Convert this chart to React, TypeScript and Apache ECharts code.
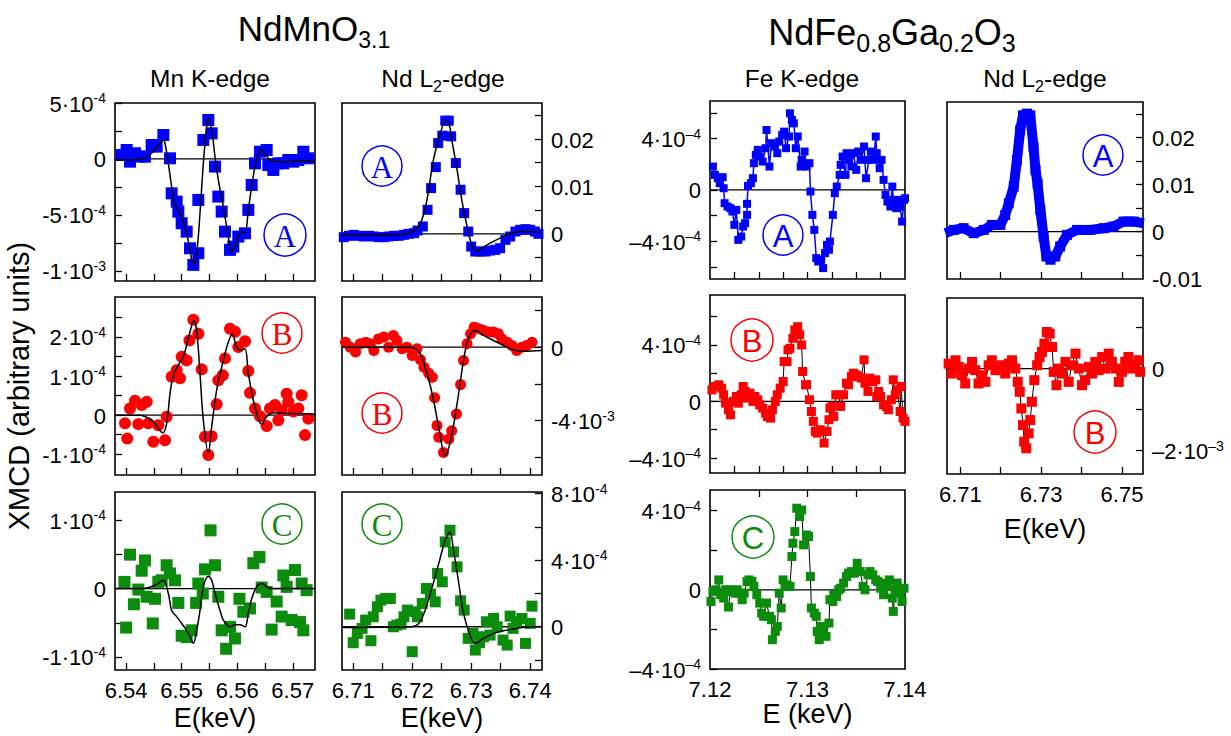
import React, { useEffect, useRef } from "react";
import * as echarts from "echarts";

// ---------------- DATA ----------------
// NdMnO3.1, Mn K-edge
const mnA_pts = [[6.5392,3.6e-5],[6.5401,8.0e-5],[6.5407,-2.4e-5],[6.5416,5.1e-5],[6.5425,2.1e-5],[6.5434,2.1e-5],[6.5446,1.25e-4],[6.5455,1.1e-4],[6.5467,2.14e-4],[6.5479,6e-6],[6.5482,-3.07e-4],[6.5491,-3.81e-4],[6.5494,-4.70e-4],[6.5500,-5.74e-4],[6.5509,-6.49e-4],[6.5515,-7.98e-4],[6.5521,-9.46e-4],[6.5530,-8.42e-4],[6.5530,-3.66e-4],[6.5539,1.70e-4],[6.5548,3.48e-4],[6.5554,2.29e-4],[6.5560,-6.8e-5],[6.5566,-3.36e-4],[6.5572,-4.70e-4],[6.5578,-6.49e-4],[6.5587,-8.12e-4],[6.5593,-7.83e-4],[6.5602,-6.93e-4],[6.5614,-6.64e-4],[6.5620,-4.55e-4],[6.5626,-2.32e-4],[6.5632,-3.9e-5],[6.5641,6.5e-5],[6.5653,8.0e-5],[6.5656,-5.4e-5],[6.5665,-9.8e-5],[6.5674,-3.9e-5],[6.5683,-3.9e-5],[6.5692,-9e-6],[6.5701,-2.4e-5],[6.5710,-9e-6],[6.5719,6.5e-5],[6.5728,6e-6]];
const mnA_fit = [[6.5382,-9e-6],[6.5407,-9e-6],[6.5431,6e-6],[6.5449,6.5e-5],[6.5461,1.40e-4],[6.5467,1.70e-4],[6.5470,1.40e-4],[6.5476,-3.9e-5],[6.5482,-2.47e-4],[6.5488,-4.11e-4],[6.5497,-4.85e-4],[6.5506,-6.04e-4],[6.5514,-7.83e-4],[6.5521,-9.46e-4],[6.5527,-8.42e-4],[6.5533,-4.85e-4],[6.5539,-3.9e-5],[6.5545,2.89e-4],[6.5548,3.63e-4],[6.5554,2.59e-4],[6.5560,2.1e-5],[6.5566,-1.87e-4],[6.5575,-4.26e-4],[6.5584,-6.93e-4],[6.5590,-8.27e-4],[6.5596,-7.83e-4],[6.5602,-6.93e-4],[6.5608,-6.49e-4],[6.5614,-6.64e-4],[6.5620,-4.55e-4],[6.5626,-2.47e-4],[6.5632,-6.8e-5],[6.5638,3.6e-5],[6.5644,8.0e-5],[6.5650,5.1e-5],[6.5659,-9e-6],[6.5671,-2.4e-5],[6.5707,-2.1e-5],[6.5740,-1.8e-5]];
const mnB_pts = [[6.5398,-2.1e-5],[6.5402,-6.0e-5],[6.5407,1.7e-5],[6.5416,3.7e-5],[6.5422,-2.3e-5],[6.5428,2.6e-5],[6.5437,3.4e-5],[6.5440,-2.1e-5],[6.5449,-6.8e-5],[6.5458,-2.6e-5],[6.5470,-6.4e-5],[6.5473,-4e-6],[6.5482,9.8e-5],[6.5491,1.15e-4],[6.5497,9.4e-5],[6.5500,1.49e-4],[6.5509,1.40e-4],[6.5514,1.91e-4],[6.5521,2.44e-4],[6.5530,2.08e-4],[6.5536,1.17e-4],[6.5542,-5.5e-5],[6.5548,-1.02e-4],[6.5554,-5.4e-5],[6.5563,2.8e-5],[6.5566,8.9e-5],[6.5574,1.02e-4],[6.5578,1.45e-4],[6.5587,2.21e-4],[6.5596,2.13e-4],[6.5602,1.74e-4],[6.5614,1.89e-4],[6.5620,1.13e-4],[6.5623,5.7e-5],[6.5632,1.7e-5],[6.5641,-3e-6],[6.5653,-2.8e-5],[6.5659,1.7e-5],[6.5668,2.6e-5],[6.5674,-1.3e-5],[6.5680,1.3e-5],[6.5689,5.5e-5],[6.5692,3.4e-5],[6.5701,9e-6],[6.5710,1.7e-5],[6.5716,5.1e-5],[6.5722,-5.1e-5],[6.5728,-9e-6]];
const mnB_fit = [[6.5382,0],[6.5425,0],[6.5449,-1.7e-5],[6.5466,-4.5e-5],[6.5473,-2.1e-5],[6.5479,5.5e-5],[6.5485,1.02e-4],[6.5494,1.28e-4],[6.5503,1.49e-4],[6.5514,2.08e-4],[6.5522,2.41e-4],[6.5527,2.17e-4],[6.5533,1.06e-4],[6.5539,-1.3e-5],[6.5548,-9.6e-5],[6.5554,-3.0e-5],[6.5563,6.4e-5],[6.5575,1.40e-4],[6.5584,1.87e-4],[6.5591,2.07e-4],[6.5599,1.74e-4],[6.5606,1.66e-4],[6.5614,1.70e-4],[6.5620,1.06e-4],[6.5629,3.8e-5],[6.5638,-9e-6],[6.5644,-2.3e-5],[6.5653,-4e-6],[6.5665,6e-6],[6.5695,4e-6],[6.5740,3e-6]];
const mnC_pts = [[6.5397,9.7e-6],[6.5400,-5.7e-5],[6.5407,4.95e-5],[6.5414,-2.3e-5],[6.5422,-1.5e-6],[6.5428,2.6e-5],[6.5434,4.1e-5],[6.5437,-1.2e-5],[6.5448,-5.1e-5],[6.5452,-1.5e-5],[6.5458,9.7e-6],[6.5464,1.2e-5],[6.5473,3.4e-5],[6.5479,2.2e-5],[6.5488,1.2e-5],[6.5494,-2.1e-5],[6.5500,-6.9e-5],[6.5509,-7.1e-5],[6.5518,-6.1e-5],[6.5526,-2.1e-5],[6.5530,7.3e-6],[6.5538,-7.3e-6],[6.5542,2.8e-5],[6.5552,8.5e-5],[6.5560,3.4e-5],[6.5566,-1.2e-5],[6.5572,-6.1e-5],[6.5580,-8.8e-5],[6.5587,-5.6e-5],[6.5596,-7.3e-5],[6.5604,-1.5e-5],[6.5611,-3.4e-5],[6.5623,-2.9e-5],[6.5629,3.7e-5],[6.5640,4.6e-5],[6.5644,1.5e-6],[6.5653,-4.9e-6],[6.5662,-6.0e-5],[6.5671,-1.9e-5],[6.5680,-4.1e-5],[6.5683,1.9e-5],[6.5689,2.4e-6],[6.5698,-4.6e-5],[6.5704,2.7e-5],[6.5713,-4.9e-5],[6.5716,7.3e-6],[6.5719,-6.1e-5],[6.5725,-2.4e-6]];
const mnC_fit = [[6.5382,0],[6.5431,0],[6.5452,4.9e-6],[6.5467,1.2e-5],[6.5476,-7.3e-6],[6.5482,-3.2e-5],[6.5491,-4.1e-5],[6.5500,-5.1e-5],[6.5509,-6.1e-5],[6.5515,-7.0e-5],[6.5521,-8.0e-5],[6.5527,-6.1e-5],[6.5533,-3.2e-5],[6.5539,2.4e-6],[6.5548,1.8e-5],[6.5554,1.2e-5],[6.5560,-7.3e-6],[6.5569,-3.2e-5],[6.5575,-4.6e-5],[6.5587,-5.6e-5],[6.5596,-5.3e-5],[6.5605,-5.3e-5],[6.5614,-5.6e-5],[6.5620,-3.6e-5],[6.5626,-1.5e-5],[6.5635,2.4e-6],[6.5644,7.3e-6],[6.5659,0],[6.5740,0]];

// NdMnO3.1, Nd L2-edge
const ndMA_pts = [[6.7084,-7.0e-4],[6.7093,-4.2e-4],[6.7101,-2.1e-4],[6.7110,-4.2e-4],[6.7118,-5.6e-4],[6.7127,-4.2e-4],[6.7135,-5.6e-4],[6.7143,-7.0e-4],[6.7152,-7.0e-4],[6.7160,-5.6e-4],[6.7169,-4.2e-4],[6.7177,-4.2e-4],[6.7186,-2.1e-4],[6.7194,0],[6.7203,1.4e-4],[6.7209,7.0e-4],[6.7218,1.55e-3],[6.7226,5.07e-3],[6.7232,9.65e-3],[6.7240,0.01408],[6.7244,0.01915],[6.7251,0.0207],[6.7256,0.02387],[6.7262,0.02387],[6.7266,0.02056],[6.7274,0.01493],[6.7282,0.0093],[6.7288,0.00437],[6.7295,4.9e-4],[6.7300,-2.68e-3],[6.7307,-3.73e-3],[6.7315,-3.73e-3],[6.7324,-3.73e-3],[6.7332,-3.52e-3],[6.7341,-3.38e-3],[6.7349,-3.03e-3],[6.7358,-1.27e-3],[6.7366,-5.6e-4],[6.7375,4.9e-4],[6.7383,8.5e-4],[6.7392,9.9e-4],[6.7400,8.5e-4],[6.7408,4.9e-4],[6.7414,0]];
const ndMA_fit = [[6.7081,-2.1e-4],[6.7174,-2.1e-4],[6.7200,4.9e-4],[6.7214,2.25e-3],[6.7225,7.18e-3],[6.7236,0.01563],[6.7248,0.02127],[6.7256,0.02373],[6.7262,0.02338],[6.7267,0.01986],[6.7276,0.01352],[6.7284,0.00718],[6.7293,1.55e-3],[6.7301,-2.32e-3],[6.7309,-3.73e-3],[6.7318,-3.03e-3],[6.7332,-1.97e-3],[6.7349,-9.2e-4],[6.7366,0],[6.7383,4.9e-4],[6.7400,4.9e-4],[6.7420,2.8e-4]];
const ndMB_pts = [[6.7087,2.7e-4],[6.7095,0],[6.7104,-2.7e-4],[6.7112,1.8e-4],[6.7121,2.7e-4],[6.7129,1.8e-4],[6.7135,-1.8e-4],[6.7143,4.5e-4],[6.7152,5.5e-4],[6.7160,0],[6.7168,6.4e-4],[6.7174,3.6e-4],[6.7183,-9e-5],[6.7191,0],[6.7200,-4.5e-4],[6.7208,-9e-5],[6.7214,-6.9e-4],[6.7220,-1.09e-3],[6.7228,-1.42e-3],[6.7234,-1.64e-3],[6.7238,-2.76e-3],[6.7242,-4.27e-3],[6.7245,-4.91e-3],[6.7253,-5.73e-3],[6.7262,-5.0e-3],[6.7267,-4.55e-3],[6.7275,-3.64e-3],[6.7282,-2.04e-3],[6.7287,-7.3e-4],[6.7293,1.8e-4],[6.7299,7.3e-4],[6.7305,1.09e-3],[6.7313,1.0e-3],[6.7321,9.1e-4],[6.7330,8.2e-4],[6.7338,8.2e-4],[6.7346,7.3e-4],[6.7352,4.5e-4],[6.7361,2.7e-4],[6.7369,9e-5],[6.7377,-1.8e-4],[6.7386,0],[6.7394,9e-5],[6.7403,2.7e-4]];
const ndMB_fit = [[6.7081,0],[6.7197,0],[6.7211,-2.2e-4],[6.7222,-1.09e-3],[6.7234,-2.55e-3],[6.7245,-4.36e-3],[6.7256,-5.91e-3],[6.7265,-5.09e-3],[6.7276,-3.09e-3],[6.7287,-7.3e-4],[6.7296,5.5e-4],[6.7307,9.1e-4],[6.7321,6.4e-4],[6.7338,3.6e-4],[6.7355,9e-5],[6.7372,-1.5e-4],[6.7389,-2.2e-4],[6.7420,-1.8e-4]];
const ndMC_pts = [[6.7094,7.6e-5],[6.7100,-9.6e-5],[6.7107,-4.0e-5],[6.7115,-1e-5],[6.7121,4e-5],[6.7130,-8.4e-5],[6.7134,6e-5],[6.7141,1.2e-4],[6.7147,1.6e-4],[6.7155,1.7e-4],[6.7163,1.7e-4],[6.7168,0],[6.7174,1e-5],[6.7181,1.6e-5],[6.7186,6e-5],[6.7192,1e-4],[6.7200,-1.5e-4],[6.7205,9e-5],[6.7209,6e-5],[6.7217,1.4e-4],[6.7224,2.3e-4],[6.7231,1.96e-4],[6.7239,1.5e-4],[6.7243,3.2e-4],[6.7251,2.7e-4],[6.7256,5.1e-4],[6.7264,5.8e-4],[6.7270,4.5e-4],[6.7276,3.6e-4],[6.7282,1.56e-4],[6.7288,1e-4],[6.7295,-7e-5],[6.7303,-4e-5],[6.7307,-1.4e-4],[6.7314,-9.6e-5],[6.7321,-6e-5],[6.7326,3e-5],[6.7332,-5e-5],[6.7338,5e-5],[6.7344,0],[6.7354,-8e-5],[6.7361,-1.1e-4],[6.7366,6.4e-5],[6.7371,-1e-5],[6.7377,3e-5],[6.7386,5e-5],[6.7392,-1e-4],[6.7400,2e-5],[6.7403,1.24e-4]];
const ndMC_fit = [[6.7083,-4e-6],[6.7197,0],[6.7211,2e-5],[6.7222,1e-4],[6.7234,2.4e-4],[6.7245,3.8e-4],[6.7256,5.2e-4],[6.7264,5.7e-4],[6.7270,4.6e-4],[6.7279,2.6e-4],[6.7287,8e-5],[6.7299,-6e-5],[6.7307,-1e-4],[6.7321,-7e-5],[6.7338,-4e-5],[6.7355,-2.4e-5],[6.7377,-1e-5],[6.7400,0],[6.7420,0]];

// NdFe0.8Ga0.2O3, Fe K-edge
const feA_pts = [[7.1199,1.56e-4],[7.1203,1.82e-4],[7.1205,1.17e-4],[7.1208,9.1e-5],[7.1210,5.2e-5],[7.1213,9.9e-5],[7.1214,1.3e-5],[7.1215,-1.04e-4],[7.1218,-1.30e-4],[7.1221,-1.43e-4],[7.1223,-1.69e-4],[7.1225,-2.73e-4],[7.1227,-1.56e-4],[7.1229,-3.90e-4],[7.1232,-3.64e-4],[7.1234,-2.86e-4],[7.1236,-2.60e-4],[7.1238,-1.95e-4],[7.1238,-1.09e-4],[7.1239,3.1e-5],[7.1242,5.2e-5],[7.1244,9.1e-5],[7.1245,2.08e-4],[7.1247,2.73e-4],[7.1249,3.12e-4],[7.1251,2.60e-4],[7.1254,2.21e-4],[7.1257,3.25e-4],[7.1258,4.67e-4],[7.1261,1.82e-4],[7.1263,3.64e-4],[7.1266,3.38e-4],[7.1269,2.86e-4],[7.1271,3.77e-4],[7.1274,4.29e-4],[7.1276,4.54e-4],[7.1278,3.25e-4],[7.1281,4.16e-4],[7.1282,5.97e-4],[7.1284,5.45e-4],[7.1286,5.19e-4],[7.1288,3.25e-4],[7.1290,4.16e-4],[7.1293,1.82e-4],[7.1294,2.34e-4],[7.1297,2.99e-4],[7.1299,1.82e-4],[7.1302,2.08e-4],[7.1303,-1.3e-5],[7.1305,-1.95e-4],[7.1307,-3.12e-4],[7.1309,-5.32e-4],[7.1311,-5.58e-4],[7.1314,-5.45e-4],[7.1316,-6.10e-4],[7.1318,-4.93e-4],[7.1320,-4.29e-4],[7.1322,-4.67e-4],[7.1323,-4.03e-4],[7.1326,-1.95e-4],[7.1328,-2.6e-5],[7.1330,2.6e-5],[7.1333,1.17e-4],[7.1334,1.95e-4],[7.1336,2.60e-4],[7.1339,1.17e-4],[7.1340,2.86e-4],[7.1342,2.34e-4],[7.1345,1.82e-4],[7.1347,2.86e-4],[7.1350,1.56e-4],[7.1352,2.99e-4],[7.1355,2.34e-4],[7.1358,3.38e-4],[7.1360,9.1e-5],[7.1363,2.34e-4],[7.1365,2.99e-4],[7.1368,2.34e-4],[7.1370,4.16e-4],[7.1371,2.86e-4],[7.1374,1.69e-4],[7.1376,2.34e-4],[7.1378,7.8e-5],[7.1380,-3.9e-5],[7.1382,-9.1e-5],[7.1385,-1.30e-4],[7.1387,2.6e-5],[7.1388,-7.8e-5],[7.1391,-1.43e-4],[7.1394,-7.8e-5],[7.1395,-1.30e-4],[7.1397,-2.47e-4],[7.1399,-7.8e-5],[7.1400,-6.5e-5]];
const feB_pts = [[7.1198,9.4e-5],[7.1202,8.2e-5],[7.1205,1.06e-4],[7.1209,1.18e-4],[7.1212,9.4e-5],[7.1214,4.7e-5],[7.1216,-1.2e-5],[7.1219,-5.9e-5],[7.1221,-9.4e-5],[7.1224,0],[7.1227,3.5e-5],[7.1229,-1.2e-5],[7.1232,4.7e-5],[7.1234,1.06e-4],[7.1236,7.1e-5],[7.1238,2.4e-5],[7.1241,5.9e-5],[7.1244,0],[7.1246,3.5e-5],[7.1249,1.2e-5],[7.1251,-2.4e-5],[7.1254,-4.7e-5],[7.1257,-8.2e-5],[7.1259,-1.06e-4],[7.1262,-1.18e-4],[7.1264,-5.9e-5],[7.1267,0],[7.1269,4.7e-5],[7.1272,9.4e-5],[7.1275,1.41e-4],[7.1276,2.82e-4],[7.1279,2.82e-4],[7.1280,3.65e-4],[7.1282,3.76e-4],[7.1285,4.47e-4],[7.1287,5.06e-4],[7.1290,5.29e-4],[7.1292,4.71e-4],[7.1294,4.0e-4],[7.1295,2.12e-4],[7.1298,1.18e-4],[7.1299,1.18e-4],[7.1302,1.2e-5],[7.1304,-7.1e-5],[7.1306,-1.41e-4],[7.1308,-2.12e-4],[7.1310,-2.24e-4],[7.1313,-2.0e-4],[7.1316,-2.12e-4],[7.1317,-2.94e-4],[7.1320,-2.12e-4],[7.1322,-1.29e-4],[7.1323,-4.7e-5],[7.1325,-3.5e-5],[7.1327,-1.06e-4],[7.1329,4.7e-5],[7.1332,4.7e-5],[7.1334,-3.5e-5],[7.1337,4.7e-5],[7.1340,1.29e-4],[7.1342,1.18e-4],[7.1345,1.76e-4],[7.1347,2.0e-4],[7.1350,1.88e-4],[7.1352,1.76e-4],[7.1355,1.65e-4],[7.1358,2.94e-4],[7.1359,1.29e-4],[7.1362,7.1e-5],[7.1364,1.65e-4],[7.1367,1.41e-4],[7.1370,1.53e-4],[7.1371,3.5e-5],[7.1373,7.1e-5],[7.1375,3.5e-5],[7.1378,-2.4e-5],[7.1381,-3.5e-5],[7.1383,-5.9e-5],[7.1386,1.2e-5],[7.1388,1.53e-4],[7.1390,4.7e-5],[7.1392,8.2e-5],[7.1395,-7.1e-5],[7.1396,1.06e-4],[7.1398,-1.18e-4],[7.1400,-1.41e-4]];
const feC_pts = [[7.1198,0],[7.1201,-5.9e-5],[7.1203,-8e-6],[7.1206,0],[7.1209,5.0e-5],[7.1211,-2.5e-5],[7.1214,-4.2e-5],[7.1216,0],[7.1219,-8.7e-5],[7.1221,0],[7.1223,-8e-6],[7.1226,-1.7e-5],[7.1228,0],[7.1230,-1.7e-5],[7.1233,-5.0e-5],[7.1235,-1.7e-5],[7.1238,4.2e-5],[7.1240,5.0e-5],[7.1243,4.2e-5],[7.1245,1.7e-5],[7.1248,-2.5e-5],[7.1251,-6.7e-5],[7.1253,-1.18e-4],[7.1255,-1.34e-4],[7.1258,-6.7e-5],[7.1261,-1.34e-4],[7.1263,-1.51e-4],[7.1264,-2.52e-4],[7.1267,-2.10e-4],[7.1269,-1.85e-4],[7.1271,-1.7e-5],[7.1273,-9.2e-5],[7.1275,5.0e-5],[7.1277,1.7e-5],[7.1279,2.5e-5],[7.1282,1.7e-5],[7.1284,1.68e-4],[7.1285,2.35e-4],[7.1287,2.94e-4],[7.1289,4.12e-4],[7.1292,3.70e-4],[7.1294,4.03e-4],[7.1296,2.27e-4],[7.1299,2.77e-4],[7.1301,2.69e-4],[7.1303,6.7e-5],[7.1304,-9.2e-5],[7.1307,-1.18e-4],[7.1309,-1.34e-4],[7.1310,-2.10e-4],[7.1312,-2.52e-4],[7.1314,-1.85e-4],[7.1316,-2.10e-4],[7.1319,-2.35e-4],[7.1322,-1.68e-4],[7.1323,-5.0e-5],[7.1326,-5.9e-5],[7.1327,-2.5e-5],[7.1330,-3.4e-5],[7.1332,0],[7.1334,8e-6],[7.1337,3.4e-5],[7.1340,6.7e-5],[7.1342,8.4e-5],[7.1345,9.2e-5],[7.1348,8.4e-5],[7.1351,1.34e-4],[7.1354,9.2e-5],[7.1357,1.7e-5],[7.1359,0],[7.1362,7.6e-5],[7.1364,9.2e-5],[7.1367,7.6e-5],[7.1370,5.0e-5],[7.1372,4.2e-5],[7.1375,8e-6],[7.1378,-2.5e-5],[7.1379,3.4e-5],[7.1382,1.7e-5],[7.1384,5.0e-5],[7.1387,-4.2e-5],[7.1388,-1.09e-4],[7.1390,0],[7.1392,3.4e-5],[7.1395,-1.7e-5],[7.1397,-5.9e-5],[7.1399,8e-6],[7.1401,1.7e-5]];

// NdFe0.8Ga0.2O3, Nd L2-edge
const ndFA_pts = [[6.7063,-3.5e-4],[6.7084,3.5e-4],[6.7108,7.1e-4],[6.7133,-3.5e-4],[6.7158,3.5e-4],[6.7178,1.41e-3],[6.7199,1.41e-3],[6.7211,3.53e-3],[6.7220,6.0e-3],[6.7232,9.54e-3],[6.7240,0.0152],[6.7248,0.02155],[6.7255,0.02473],[6.7265,0.02509],[6.7273,0.02473],[6.7281,0.01802],[6.7286,0.01307],[6.7291,0.01025],[6.7298,4.59e-3],[6.7306,-1.06e-3],[6.7313,-5.3e-3],[6.7323,-6.0e-3],[6.7335,-5.3e-3],[6.7347,-3.18e-3],[6.7364,-7.1e-4],[6.7389,3.5e-4],[6.7422,3.5e-4],[6.7455,7.1e-4],[6.7479,1.06e-3],[6.7504,2.12e-3],[6.7529,2.12e-3],[6.7554,1.77e-3]];
const ndFB_pts = [[6.7063,-8.1e-5],[6.7071,1.21e-4],[6.7079,-1.21e-4],[6.7088,2.02e-4],[6.7096,4e-5],[6.7104,-1.62e-4],[6.7112,-3.64e-4],[6.7121,0],[6.7129,1.62e-4],[6.7137,-4e-5],[6.7145,-3.64e-4],[6.7154,-1.62e-4],[6.7162,-3.24e-4],[6.7170,8.1e-5],[6.7178,2.02e-4],[6.7187,-4e-5],[6.7195,0],[6.7203,8.1e-5],[6.7211,-1.21e-4],[6.7220,1.21e-4],[6.7228,2.02e-4],[6.7236,0],[6.7242,-3.24e-4],[6.7247,-5.67e-4],[6.7251,-9.72e-4],[6.7255,-1.377e-3],[6.7258,-1.781e-3],[6.7263,-1.943e-3],[6.7269,-1.579e-3],[6.7273,-1.255e-3],[6.7277,-8.1e-4],[6.7283,-2.83e-4],[6.7290,8.1e-5],[6.7296,2.83e-4],[6.7302,4.05e-4],[6.7308,6.07e-4],[6.7314,8.91e-4],[6.7321,8.5e-4],[6.7327,5.26e-4],[6.7331,-8.1e-5],[6.7338,-4.05e-4],[6.7343,0],[6.7352,-1.21e-4],[6.7360,1.62e-4],[6.7368,-3.24e-4],[6.7376,8.1e-5],[6.7385,3.64e-4],[6.7393,0],[6.7401,-4.05e-4],[6.7409,-2.83e-4],[6.7418,4e-5],[6.7426,-1.21e-4],[6.7434,1.62e-4],[6.7442,-4e-5],[6.7451,2.83e-4],[6.7459,0],[6.7467,3.64e-4],[6.7475,1.62e-4],[6.7484,0],[6.7492,-3.24e-4],[6.7500,-8.1e-5],[6.7508,1.62e-4],[6.7516,2.83e-4],[6.7525,0],[6.7533,8.1e-5],[6.7541,2.02e-4],[6.7545,-8.1e-5]];

// axis ticks and tick labels
const mnX_ticks = [6.54, 6.545, 6.55, 6.555, 6.56, 6.565, 6.57];
const mnX_labels = [6.54, 6.55, 6.56, 6.57];
const ndMX_ticks = [6.71, 6.715, 6.72, 6.725, 6.73, 6.735, 6.74];
const ndMX_labels = [6.71, 6.72, 6.73, 6.74];
const feX_ticks = [7.1225, 7.125, 7.1275, 7.13, 7.1325, 7.135, 7.1375];
const feX_topTicks = [7.125, 7.13, 7.135];
const feX_labels = [7.12, 7.13, 7.14];
const ndFX_ticks = [6.71, 6.72, 6.73, 6.74, 6.75];
const ndFX_labels = [6.71, 6.73, 6.75];

const mnA_yTicks = [-1e-3, -7.5e-4, -5e-4, -2.5e-4, 0, 2.5e-4, 5e-4];
const mnA_yLabels = [-1e-3, -5e-4, 0, 5e-4];
const mnB_yTicks = [-1e-4, -5e-5, 0, 5e-5, 1e-4, 1.5e-4, 2e-4, 2.5e-4];
const mnB_yLabels = [-1e-4, 0, 1e-4, 2e-4];
const mnC_yTicks = [-1e-4, -5e-5, 0, 5e-5, 1e-4];
const mnC_yLabels = [-1e-4, 0, 1e-4];
const ndMA_yTicks = [-0.005, 0, 0.005, 0.01, 0.015, 0.02, 0.025];
const ndMA_yLabels = [-0.01, 0, 0.01, 0.02];
const ndMB_yTicks = [-6e-3, -4e-3, -2e-3, 0, 2e-3];
const ndMB_yLabels = [-4e-3, 0];
const ndMC_yTicks = [-2e-4, 0, 2e-4, 4e-4, 6e-4, 8e-4];
const ndMC_yLabels = [0, 4e-4, 8e-4];
const feA_yTicks = [-6e-4, -4e-4, -2e-4, 0, 2e-4, 4e-4, 6e-4];
const feA_yLabels = [-4e-4, 0, 4e-4];
const feB_yTicks = [-4e-4, -2e-4, 0, 2e-4, 4e-4, 6e-4];
const feB_yLabels = [-4e-4, 0, 4e-4];
const feC_yTicks = [-4e-4, -2e-4, 0, 2e-4, 4e-4];
const feC_yLabels = [-4e-4, 0, 4e-4];
const ndFA_yTicks = [-0.005, 0, 0.005, 0.01, 0.015, 0.02, 0.025];
const ndFA_yLabels = [-0.01, 0, 0.01, 0.02];
const ndFB_yTicks = [-2e-3, -1e-3, 0, 1e-3];
const ndFB_yLabels = [-2e-3, 0];

// ---------------- CHART ----------------
const SANS = "'Liberation Sans', Arial, Helvetica, sans-serif";
const SERIF = "'Liberation Serif', 'Times New Roman', serif";
const BLUE = "#0000ff";
const RED = "#ff0000";
const GREEN = "#0c8c0c";

function sciLabel(v: number, dash: string): string {
  if (Math.abs(v) < 1e-12) return "{b|0}";
  const e = Math.floor(Math.log10(Math.abs(v)) + 1e-9);
  const m = Math.round(v / Math.pow(10, e));
  const sign = m < 0 ? dash : "";
  return `{b|${sign}${Math.abs(m)}·10}{s|${dash}${-e}}`;
}
function decLabel(v: number): string {
  if (Math.abs(v) < 1e-12) return "{b|0}";
  return `{b|${v.toFixed(2)}}`;
}

type Panel = {
  left: number; top: number; width: number; height: number;
  xMin: number; xMax: number; xTicks: number[]; xLabels?: number[]; xTopTicks?: number[]; xName?: string; nameGap?: number;
  yMin: number; yMax: number; yTicks: number[]; yLabels: number[]; ySide: "left" | "right";
  yFmt: "sci" | "dec"; dash: string;
  pts: number[][]; color: string; symbol: string; symbolSize: number;
  fit?: number[][]; connect?: string; connectWidth?: number;
};

function buildOption() {
  const panels: Panel[] = [
    { left: 115, top: 103, width: 200, height: 178, xMin: 6.538, xMax: 6.574, xTicks: mnX_ticks,
      yMin: -1.09e-3, yMax: 5e-4, yTicks: mnA_yTicks, yLabels: mnA_yLabels, ySide: "left", yFmt: "sci", dash: "-",
      pts: mnA_pts, fit: mnA_fit, color: BLUE, symbol: "rect", symbolSize: 12 },
    { left: 115, top: 297, width: 200, height: 178, xMin: 6.538, xMax: 6.574, xTicks: mnX_ticks,
      yMin: -1.53e-4, yMax: 3.02e-4, yTicks: mnB_yTicks, yLabels: mnB_yLabels, ySide: "left", yFmt: "sci", dash: "-",
      pts: mnB_pts, fit: mnB_fit, color: RED, symbol: "circle", symbolSize: 12 },
    { left: 115, top: 492, width: 200, height: 178, xMin: 6.538, xMax: 6.574, xTicks: mnX_ticks, xLabels: mnX_labels, xName: "E(keV)", nameGap: 34,
      yMin: -1.19e-4, yMax: 1.41e-4, yTicks: mnC_yTicks, yLabels: mnC_yLabels, ySide: "left", yFmt: "sci", dash: "-",
      pts: mnC_pts, fit: mnC_fit, color: GREEN, symbol: "rect", symbolSize: 12 },
    { left: 342, top: 103, width: 200, height: 178, xMin: 6.7081, xMax: 6.742, xTicks: ndMX_ticks,
      yMin: -0.00995, yMax: 0.0276, yTicks: ndMA_yTicks, yLabels: ndMA_yLabels, ySide: "right", yFmt: "dec", dash: "-",
      pts: ndMA_pts, fit: ndMA_fit, color: BLUE, symbol: "rect", symbolSize: 10 },
    { left: 342, top: 297, width: 200, height: 178, xMin: 6.7081, xMax: 6.742, xTicks: ndMX_ticks,
      yMin: -6.96e-3, yMax: 2.73e-3, yTicks: ndMB_yTicks, yLabels: ndMB_yLabels, ySide: "right", yFmt: "sci", dash: "-",
      pts: ndMB_pts, fit: ndMB_fit, color: RED, symbol: "circle", symbolSize: 11 },
    { left: 342, top: 492, width: 200, height: 178, xMin: 6.7081, xMax: 6.742, xTicks: ndMX_ticks, xLabels: ndMX_labels, xName: "E(keV)", nameGap: 34,
      yMin: -2.6e-4, yMax: 8.1e-4, yTicks: ndMC_yTicks, yLabels: ndMC_yLabels, ySide: "right", yFmt: "sci", dash: "-",
      pts: ndMC_pts, fit: ndMC_fit, color: GREEN, symbol: "rect", symbolSize: 11 },
    { left: 710, top: 101, width: 195, height: 178, xMin: 7.12, xMax: 7.14, xTicks: feX_ticks,
      yMin: -6.95e-4, yMax: 6.93e-4, yTicks: feA_yTicks, yLabels: feA_yLabels, ySide: "left", yFmt: "sci", dash: "–",
      pts: feA_pts, connect: BLUE, connectWidth: 1.5, color: BLUE, symbol: "rect", symbolSize: 8 },
    { left: 710, top: 295, width: 195, height: 178, xMin: 7.12, xMax: 7.14, xTicks: feX_ticks,
      yMin: -5.06e-4, yMax: 7.53e-4, yTicks: feB_yTicks, yLabels: feB_yLabels, ySide: "left", yFmt: "sci", dash: "–",
      pts: feB_pts, connect: "#000", connectWidth: 1, color: RED, symbol: "rect", symbolSize: 9 },
    { left: 710, top: 490, width: 195, height: 179, xMin: 7.12, xMax: 7.14, xTicks: [], xTopTicks: feX_topTicks, xLabels: feX_labels, xName: "E (keV)", nameGap: 30,
      yMin: -4.0e-4, yMax: 5.04e-4, yTicks: feC_yTicks, yLabels: feC_yLabels, ySide: "left", yFmt: "sci", dash: "–",
      pts: feC_pts, connect: "#000", connectWidth: 1, color: GREEN, symbol: "rect", symbolSize: 9 },
    { left: 947, top: 102, width: 196, height: 177, xMin: 6.7067, xMax: 6.7552, xTicks: ndFX_ticks,
      yMin: -0.0101, yMax: 0.02756, yTicks: ndFA_yTicks, yLabels: ndFA_yLabels, ySide: "right", yFmt: "dec", dash: "–",
      pts: ndFA_pts, connect: BLUE, connectWidth: 10, color: BLUE, symbol: "rect", symbolSize: 10 },
    { left: 947, top: 298, width: 196, height: 176, xMin: 6.7067, xMax: 6.7552, xTicks: ndFX_ticks, xLabels: ndFX_labels, xName: "E(keV)", nameGap: 41,
      yMin: -2.57e-3, yMax: 1.72e-3, yTicks: ndFB_yTicks, yLabels: ndFB_yLabels, ySide: "right", yFmt: "sci", dash: "–",
      pts: ndFB_pts, connect: "#000", connectWidth: 1, color: RED, symbol: "rect", symbolSize: 10 },
  ];

  const grid: any[] = [];
  const xAxis: any[] = [];
  const yAxis: any[] = [];
  const series: any[] = [];
  const tickStyle = { color: "#000", width: 1.3 };
  const richY = {
    b: { fontSize: 22, fontFamily: SANS, color: "#000", lineHeight: 24, verticalAlign: "bottom" },
    s: { fontSize: 14, fontFamily: SANS, color: "#000", lineHeight: 15, verticalAlign: "top" },
  };

  panels.forEach((p, i) => {
    grid.push({ left: p.left, top: p.top, width: p.width, height: p.height, show: true,
      borderColor: "#000", borderWidth: 1.6, backgroundColor: "transparent", containLabel: false });
    xAxis.push({
      type: "value", gridIndex: i, position: "bottom", min: p.xMin, max: p.xMax,
      axisLine: { show: false, onZero: false }, splitLine: { show: false },
      axisTick: { show: p.xTicks.length > 0, inside: true, length: 7, customValues: p.xTicks, lineStyle: tickStyle },
      axisLabel: p.xLabels
        ? { show: true, customValues: p.xLabels, margin: 9, fontSize: 22, fontFamily: SANS, color: "#000",
            formatter: (v: number) => v.toFixed(2) }
        : { show: false },
      name: p.xName, nameLocation: "middle", nameGap: p.nameGap ?? 34,
      nameTextStyle: { fontSize: 27, fontFamily: SANS, color: "#000" },
    });
    const xi = xAxis.length - 1;
    const yi = yAxis.length;
    yAxis.push({
      type: "value", gridIndex: i, position: p.ySide, min: p.yMin, max: p.yMax,
      axisLine: { show: false, onZero: false }, splitLine: { show: false },
      axisTick: { show: true, inside: true, length: 7, customValues: p.yTicks, lineStyle: tickStyle },
      axisLabel: {
        show: true, customValues: p.yLabels, margin: 9, fontSize: 22, fontFamily: SANS, color: "#000",
        formatter: (v: number) => (p.yFmt === "sci" ? sciLabel(v, p.dash) : decLabel(v)),
        rich: richY,
      },
    });
    if (p.xTopTicks) {
      xAxis.push({
        type: "value", gridIndex: i, position: "top", min: p.xMin, max: p.xMax,
        axisLine: { show: false, onZero: false }, splitLine: { show: false },
        axisTick: { show: true, inside: true, length: 7, customValues: p.xTopTicks, lineStyle: tickStyle },
        axisLabel: { show: false },
      });
    }
    // zero line
    series.push({
      type: "line", xAxisIndex: xi, yAxisIndex: yi, data: [[p.xMin, 0], [p.xMax, 0]],
      showSymbol: false, symbol: "none", lineStyle: { color: "#000", width: 1.3 }, z: 1, silent: true,
    });
    if (p.fit) {
      series.push({
        type: "scatter", xAxisIndex: xi, yAxisIndex: yi, data: p.pts, symbol: p.symbol,
        symbolSize: p.symbolSize, itemStyle: { color: p.color, opacity: 1 }, z: 2, silent: true,
      });
      series.push({
        type: "line", xAxisIndex: xi, yAxisIndex: yi, data: p.fit, smooth: 0.35, showSymbol: false,
        symbol: "none", lineStyle: { color: "#000", width: 1.5 }, z: 3, silent: true,
      });
    } else {
      series.push({
        type: "line", xAxisIndex: xi, yAxisIndex: yi, data: p.pts, symbol: p.symbol, showSymbol: true,
        symbolSize: p.symbolSize, itemStyle: { color: p.color, opacity: 1 },
        lineStyle: { color: p.connect, width: p.connectWidth }, z: 2, silent: true,
      });
    }
  });

  const circles = [
    { cx: 285, cy: 235, r: 21, t: "A", c: BLUE, f: SERIF },
    { cx: 382, cy: 166, r: 20, t: "A", c: BLUE, f: SERIF },
    { cx: 282, cy: 333, r: 20, t: "B", c: RED, f: SERIF },
    { cx: 382, cy: 413, r: 20, t: "B", c: RED, f: SERIF },
    { cx: 282, cy: 524, r: 20, t: "C", c: GREEN, f: SERIF },
    { cx: 382, cy: 524, r: 20, t: "C", c: GREEN, f: SERIF },
    { cx: 783, cy: 235, r: 20, t: "A", c: BLUE, f: SANS },
    { cx: 1103, cy: 155, r: 20, t: "A", c: BLUE, f: SANS },
    { cx: 752, cy: 340, r: 21, t: "B", c: RED, f: SANS },
    { cx: 1095, cy: 432, r: 21, t: "B", c: RED, f: SANS },
    { cx: 753, cy: 537, r: 21, t: "C", c: GREEN, f: SANS },
  ];
  const graphic: any[] = [];
  circles.forEach((c) => {
    graphic.push({ type: "circle", shape: { cx: c.cx, cy: c.cy, r: c.r }, style: { fill: "none", stroke: c.c, lineWidth: 1.5 }, z: 10 });
    graphic.push({ type: "text", x: c.cx, y: c.cy + 1, style: { text: c.t, fill: c.c, font: `31px ${c.f}`, align: "center", verticalAlign: "middle" }, z: 10 });
  });
  const titleRich = {
    b: { fontSize: 35, fontFamily: SANS, color: "#000", lineHeight: 40, verticalAlign: "top" },
    u: { fontSize: 23, fontFamily: SANS, color: "#000", lineHeight: 22, verticalAlign: "bottom" },
  };
  const titleRich2 = {
    b: { fontSize: 36, fontFamily: SANS, color: "#000", lineHeight: 41, verticalAlign: "top" },
    u: { fontSize: 25, fontFamily: SANS, color: "#000", lineHeight: 23, verticalAlign: "bottom" },
  };
  const subRich = {
    b: { fontSize: 24.5, fontFamily: SANS, color: "#000", lineHeight: 29, verticalAlign: "top" },
    u: { fontSize: 16, fontFamily: SANS, color: "#000", lineHeight: 16, verticalAlign: "bottom" },
  };
  graphic.push({ type: "text", x: 314, y: 31, style: { text: "{b|NdMnO}{u|3.1}", rich: titleRich, align: "center", verticalAlign: "middle" } });
  graphic.push({ type: "text", x: 892, y: 35, style: { text: "{b|NdFe}{u|0.8}{b|Ga}{u|0.2}{b|O}{u|3}", rich: titleRich2, align: "center", verticalAlign: "middle" } });
  graphic.push({ type: "text", x: 210, y: 80, style: { text: "{b|Mn K-edge}", rich: subRich, align: "center", verticalAlign: "middle" } });
  graphic.push({ type: "text", x: 443, y: 80, style: { text: "{b|Nd L}{u|2}{b|-edge}", rich: subRich, align: "center", verticalAlign: "middle" } });
  graphic.push({ type: "text", x: 802, y: 80, style: { text: "{b|Fe K-edge}", rich: subRich, align: "center", verticalAlign: "middle" } });
  graphic.push({ type: "text", x: 1045, y: 80, style: { text: "{b|Nd L}{u|2}{b|-edge}", rich: subRich, align: "center", verticalAlign: "middle" } });
  graphic.push({ type: "text", x: 19, y: 386, rotation: Math.PI / 2, style: { text: "XMCD (arbitrary units)", fill: "#000", font: `29px ${SANS}`, align: "center", verticalAlign: "middle" } });

  return { animation: false, backgroundColor: "#fff", grid, xAxis, yAxis, series, graphic };
}

export default function App() {
  const ref = useRef<HTMLDivElement>(null);
  useEffect(() => {
    document.body.style.margin = "0";
    if (!ref.current) return;
    const chart = echarts.init(ref.current, undefined, { renderer: "svg" });
    chart.setOption(buildOption() as any);
    return () => chart.dispose();
  }, []);
  return <div ref={ref} style={{ width: 1231, height: 736 }} />;
}
